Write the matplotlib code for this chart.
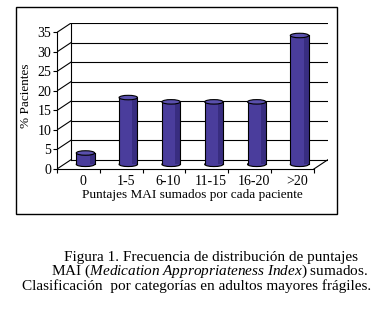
import numpy as np
import matplotlib
matplotlib.use("Agg")
from matplotlib import pyplot as plt
from matplotlib.patches import Rectangle, Ellipse

plt.rcParams['font.family'] = ['Liberation Serif', 'DejaVu Serif']
plt.rcParams['mathtext.fontset'] = 'custom'
plt.rcParams['mathtext.it'] = 'Liberation Serif:italic'
plt.rcParams['mathtext.rm'] = 'Liberation Serif'

categories = ["0", "1-5", "6-10", "11-15", "16-20", ">20"]
values = [2.9, 17.1, 16.0, 16.0, 16.0, 33.0]
yticks = [0, 5, 10, 15, 20, 25, 30, 35]
xlabel = "Puntajes MAI sumados por cada paciente"
ylabel = "% Pacientes"
caption = ["Figura 1. Frecuencia de distribución de puntajes",
           r"MAI ($\mathit{Medication\ Appropriateness\ Index}$) sumados.",
           "Clasificación  por categorías en adultos mayores frágiles."]

# fake depth offset of the 3d look, in data units
dx, dy = 0.33, 2.4
bar_w = 0.43
ell_h = 1.15
bar_color = "#4a3d9c"

fig = plt.figure(figsize=(3.8, 3.09), dpi=100)
ax = fig.add_axes([57 / 380, 1 - 169 / 309, 271 / 380, 146 / 309])
n = len(categories)
x0, x1 = -0.5, n - 0.5
ax.set_xlim(x0, x1 + dx)
ax.set_ylim(0, yticks[-1] + dy)

# side wall and back wall grid
for v in yticks:
    ax.plot([x0, x0 + dx], [v, v + dy], color="black", lw=0.8)
    ax.plot([x0 + dx, x1 + dx], [v + dy, v + dy], color="black", lw=0.8)
ax.plot([x0 + dx, x0 + dx], [dy, yticks[-1] + dy], color="black", lw=0.8)
# floor right edge
ax.plot([x1, x1 + dx], [0, dy], color="black", lw=0.8)

# cylinders
for i, v in enumerate(values):
    cx = i + dx / 2
    base = dy / 2
    top = v + dy / 2
    ax.add_patch(Ellipse((cx, base), bar_w, ell_h, facecolor=bar_color,
                         edgecolor="black", lw=0.8, zorder=3))
    ax.add_patch(Rectangle((cx - bar_w / 2, base), bar_w, top - base,
                           facecolor=bar_color, edgecolor="none", zorder=3))
    ax.add_patch(Rectangle((cx + bar_w * 0.22, base), bar_w * 0.28, top - base,
                           facecolor="#382d80", edgecolor="none", zorder=3))
    ax.plot([cx - bar_w / 2, cx - bar_w / 2], [base, top], color="black", lw=0.8, zorder=4)
    ax.plot([cx + bar_w / 2, cx + bar_w / 2], [base, top], color="black", lw=0.8, zorder=4)
    ax.add_patch(Ellipse((cx, top), bar_w, ell_h, facecolor="#5a50ad",
                         edgecolor="black", lw=0.8, zorder=5))

for s in ["top", "right"]:
    ax.spines[s].set_visible(False)
ax.spines["left"].set_bounds(0, yticks[-1])
ax.spines["bottom"].set_bounds(x0, x1)
ax.spines["left"].set_linewidth(0.8)
ax.spines["bottom"].set_linewidth(0.8)
ax.set_yticks(yticks)
ax.set_xticks(np.arange(n) + 0.1)
ax.set_xticklabels(categories)
ax.set_xticks(np.arange(n + 1) - 0.5, minor=True)
ax.tick_params(axis="x", which="major", length=0, labelsize=10, pad=4)
ax.tick_params(axis="x", which="minor", length=3, width=0.8)
ax.tick_params(axis="y", length=3, width=0.8, labelsize=10, pad=1)
ax.set_xlabel(xlabel, fontsize=9.5, labelpad=1)
ax.set_ylabel(ylabel, fontsize=9.5, labelpad=4)

# frame around the chart
fig.patches.append(Rectangle((16 / 380, 1 - 214 / 309), 321 / 380, 207 / 309,
                             transform=fig.transFigure, fill=False,
                             edgecolor="black", lw=1.0))

centers = [211, 210, 197]
for k, line in enumerate(caption):
    fig.text(centers[k] / 380, 1 - (257 + 14.5 * k) / 309, line,
             ha="center", va="center", fontsize=11)

fig.savefig("out.png", dpi=100)
